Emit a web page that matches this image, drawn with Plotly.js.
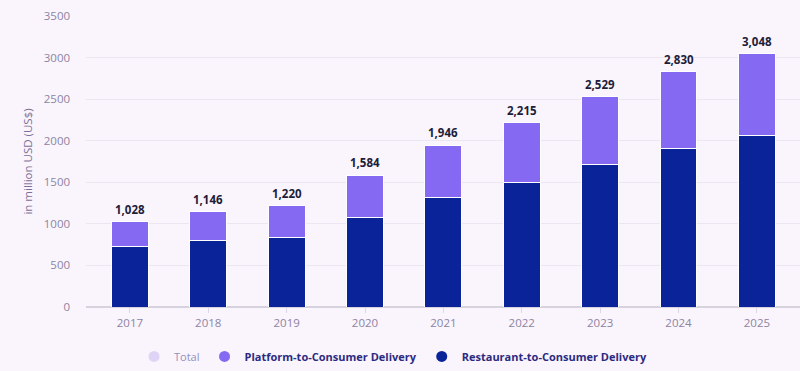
<!DOCTYPE html>
<html>
<head>
<meta charset="utf-8">
<script src="https://cdn.plot.ly/plotly-3.0.1.min.js"></script>
<style>html,body{margin:0;padding:0;background:#faf4fc;}#chart{width:800px;height:371px;}</style>
</head>
<body>
<div id="chart"></div>
<script>
var years = ["2017","2018","2019","2020","2021","2022","2023","2024","2025"];
var totals = [1028, 1146, 1220, 1584, 1946, 2215, 2529, 2830, 3048];
var restaurant = [725, 798, 841, 1077, 1317, 1501, 1713, 1910, 2060];
var platform = totals.map(function(t, i){ return t - restaurant[i]; });
var totalLabels = ["1,028","1,146","1,220","1,584","1,946","2,215","2,529","2,830","3,048"];

var navy = "#0a2399";
var purple = "#8569f3";

var traces = [
  {type:"bar", x:years, y:restaurant, name:"Restaurant-to-Consumer Delivery", marker:{color:navy, line:{color:"#ffffff", width:1}}, showlegend:false, hoverinfo:"y"},
  {type:"bar", x:years, y:platform, name:"Platform-to-Consumer Delivery", marker:{color:purple, line:{color:"#ffffff", width:1}}, showlegend:false, hoverinfo:"y"},
  {type:"scatter", mode:"markers", x:[null], y:[null], name:"Total", visible:"legendonly", marker:{color:"#c7b6f2", size:11, symbol:"circle"}},
  {type:"scatter", mode:"markers", x:[null], y:[null], name:"<b>Platform-to-Consumer Delivery</b>", marker:{color:purple, size:11, symbol:"circle"}},
  {type:"scatter", mode:"markers", x:[null], y:[null], name:"<b>Restaurant-to-Consumer Delivery</b>", marker:{color:navy, size:11, symbol:"circle"}}
];

var annotations = years.map(function(y, i){
  return {xref:"x", yref:"y", x:i, y:totals[i], text:"<b>"+totalLabels[i]+"</b>", showarrow:false, yanchor:"bottom", yshift:3,
          font:{family:"Open Sans, sans-serif", size:11.5, color:"#1d1d3a"}};
});

var layout = {
  width:800, height:371,
  margin:{l:86, r:0, t:16, b:58},
  paper_bgcolor:"#faf4fc", plot_bgcolor:"#faf4fc",
  barmode:"stack", bargap:0.53,
  font:{family:"Open Sans, sans-serif", color:"#8c84a3"},
  xaxis:{type:"category", range:[-0.56, 8.55], showgrid:false, ticks:"outside", ticklen:5, tickcolor:"#dcd6e8",
         tickfont:{size:11.5, color:"#8c84a3"}, showline:false, fixedrange:true},
  yaxis:{range:[0,3500], dtick:500, showgrid:true, gridcolor:"#ece6f2", gridwidth:1, zeroline:true, zerolinecolor:"#d6d2de",
         zerolinewidth:1.5, tickfont:{size:11.5, color:"#8c84a3"}, ticksuffix:"     ", tickformat:"d",
         title:{text:"in million USD (US$)", font:{size:11.5, color:"#7a6f98"}, standoff:8}},
  legend:{orientation:"h", traceorder:"normal", x:0.43, xanchor:"center", y:-0.12, yanchor:"top", font:{size:11, color:"#2b2a80", family:"Open Sans, sans-serif"},
          itemclick:false, itemdoubleclick:false, bgcolor:"rgba(0,0,0,0)", itemwidth:30},
  annotations:annotations,
  showlegend:true
};

Plotly.newPlot("chart", traces, layout, {displayModeBar:false, staticPlot:true});
</script>
</body>
</html>
